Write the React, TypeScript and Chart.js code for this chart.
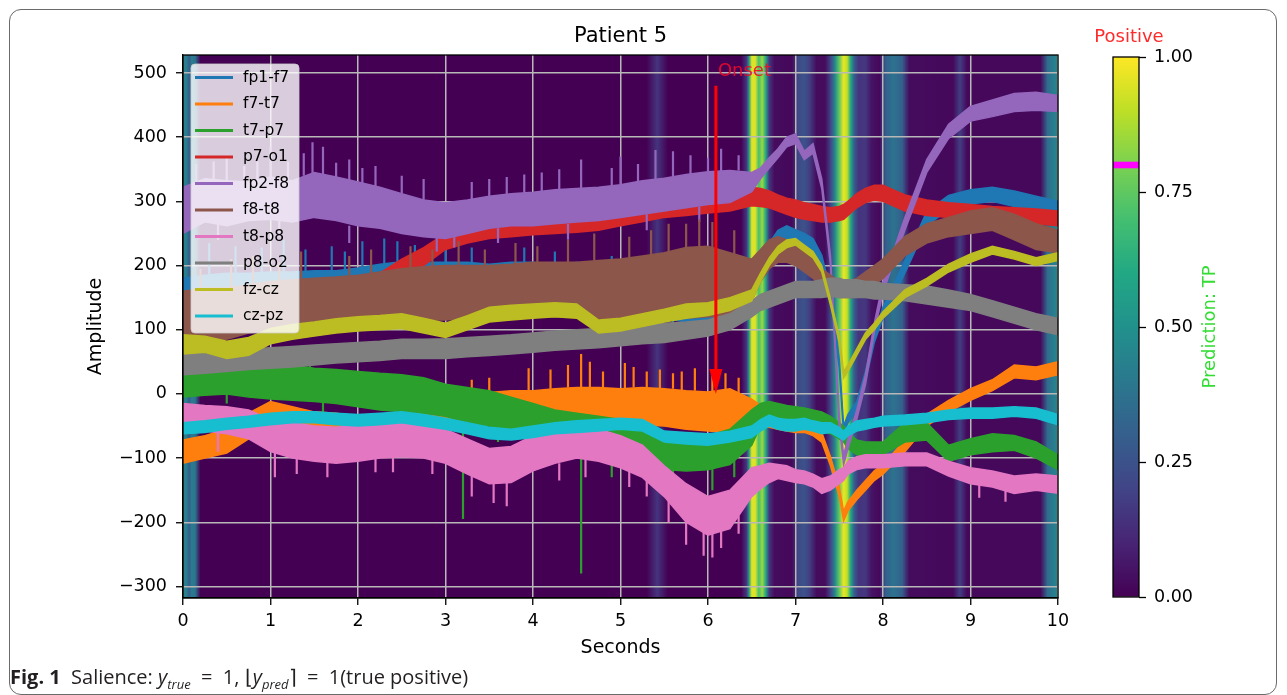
import React, { useEffect, useRef } from 'react';
import { Chart, registerables } from 'chart.js';
Chart.register(...registerables);

// ---------- axis / tick values ----------
const xTicks = [0, 1, 2, 3, 4, 5, 6, 7, 8, 9, 10];
const yTicks = [-300, -200, -100, 0, 100, 200, 300, 400, 500];
const yMin = -318;
const yMax = 528;
const cbTicks = [0, 0.25, 0.5, 0.75, 1];

// ---------- sample times (s) ----------
const timeS = [
  0, 0.25, 0.5, 0.75, 1, 1.25, 1.5, 1.75,
  2, 2.25, 2.5, 2.75, 3, 3.25, 3.5, 3.75,
  4, 4.25, 4.5, 4.75, 5, 5.25, 5.5, 5.75,
  6, 6.25, 6.5,
  6.6, 6.7, 6.8, 6.9, 7, 7.1, 7.2, 7.3, 7.4, 7.5,
  7.55, 7.6, 7.7, 7.8, 7.9, 8,
  8.25, 8.5, 8.75, 9, 9.25, 9.5, 9.75, 10,
];

// ---------- channel envelopes (low / high of the noisy trace) ----------
const fp1f7Lo = [145, 145, 148, 148, 150, 148, 150, 146, 148, 150, 150, 148, 145, 148, 145, 142, 140, 140, 135, 132, 128, 122, 118, 112, 110, 118, 150, 180, 205, 228, 240, 236, 230, 222, 200, 148, 40, -62, -45, -25, 20, 80, 118, 188, 262, 287, 296, 300, 292, 286, 278];
const fp1f7Hi = [180, 185, 188, 188, 190, 190, 192, 192, 196, 202, 206, 205, 205, 205, 202, 205, 205, 200, 205, 198, 195, 190, 188, 185, 182, 185, 200, 215, 235, 255, 262, 256, 250, 242, 216, 162, 54, -50, -32, -12, 35, 95, 135, 208, 284, 309, 318, 322, 316, 308, 300];

const f7t7Lo = [-108, -100, -92, -70, -55, -60, -65, -68, -72, -75, -70, -62, -55, -45, -42, -40, -42, -40, -40, -42, -45, -48, -50, -55, -58, -60, -58, -48, -52, -55, -58, -60, -60, -65, -75, -112, -160, -198, -182, -165, -150, -135, -125, -90, -50, -28, -10, 5, 25, 22, 30];
const f7t7Hi = [-72, -65, -55, -30, -12, -20, -28, -30, -35, -38, -32, -25, -15, 0, 2, 5, 5, 8, 10, 10, 8, 10, 8, 5, 3, 8, -8, -18, -30, -35, -38, -40, -42, -48, -60, -98, -145, -183, -168, -150, -135, -120, -110, -72, -32, -10, 8, 22, 45, 42, 50];

const t7p7Lo = [-5, -2, 0, -5, -8, -10, -12, -15, -20, -25, -28, -30, -35, -45, -50, -58, -65, -75, -85, -92, -100, -108, -118, -120, -118, -110, -80, -50, -45, -48, -50, -52, -50, -55, -58, -62, -70, -75, -85, -95, -98, -95, -95, -75, -72, -105, -95, -90, -88, -100, -118];
const t7p7Hi = [42, 45, 48, 45, 42, 45, 40, 38, 35, 32, 30, 25, 15, 10, 5, -5, -15, -25, -30, -35, -40, -50, -65, -65, -65, -55, -25, -15, -12, -15, -18, -20, -22, -25, -28, -35, -45, -50, -60, -72, -75, -75, -75, -45, -45, -80, -70, -62, -65, -75, -95];

const p7o1Lo = [135, 138, 140, 142, 145, 147, 148, 150, 152, 160, 182, 200, 225, 235, 242, 245, 248, 250, 252, 255, 262, 268, 275, 278, 282, 285, 293, 292, 290, 285, 280, 275, 272, 270, 268, 268, 270, 272, 278, 290, 298, 302, 300, 285, 278, 275, 272, 270, 268, 265, 262];
const p7o1Hi = [158, 162, 163, 166, 170, 172, 174, 176, 180, 188, 210, 228, 250, 260, 268, 270, 272, 275, 278, 282, 288, 292, 300, 302, 308, 312, 322, 320, 316, 310, 305, 302, 298, 295, 292, 290, 292, 295, 300, 312, 320, 325, 325, 310, 302, 298, 295, 292, 290, 288, 285];

const fp2f8Lo = [250, 268, 262, 270, 272, 268, 275, 270, 262, 258, 250, 245, 242, 250, 258, 262, 262, 265, 268, 270, 275, 280, 285, 290, 295, 298, 315, 335, 352, 368, 385, 390, 365, 375, 320, 200, -50, -110, -85, -40, 15, 95, 158, 255, 345, 398, 425, 432, 440, 442, 440];
const fp2f8Hi = [322, 335, 332, 330, 338, 332, 345, 338, 330, 322, 312, 302, 298, 302, 308, 312, 314, 318, 320, 322, 326, 332, 336, 342, 346, 348, 345, 352, 368, 382, 400, 405, 378, 390, 335, 215, -35, -95, -70, -25, 30, 110, 175, 275, 365, 420, 448, 458, 468, 470, 465];

const f8t8Lo = [80, 80, 85, 95, 100, 102, 105, 108, 110, 112, 115, 115, 115, 118, 120, 120, 120, 120, 120, 118, 115, 115, 115, 118, 120, 120, 145, 175, 195, 205, 205, 200, 190, 180, 165, 155, 150, 150, 150, 150, 160, 170, 180, 215, 235, 245, 250, 255, 240, 225, 220];
const f8t8Hi = [160, 165, 165, 170, 175, 178, 180, 182, 185, 190, 195, 198, 200, 200, 200, 202, 205, 205, 205, 208, 210, 215, 220, 228, 230, 220, 210, 225, 240, 245, 240, 232, 222, 210, 195, 185, 175, 175, 175, 180, 190, 200, 210, 245, 265, 275, 285, 290, 280, 265, 255];

const t8p8Lo = [-55, -58, -62, -70, -90, -100, -105, -108, -105, -100, -98, -100, -108, -125, -140, -138, -120, -108, -100, -105, -115, -130, -160, -200, -220, -210, -160, -148, -138, -132, -135, -138, -140, -145, -155, -150, -140, -135, -125, -118, -115, -115, -115, -112, -112, -128, -140, -145, -155, -150, -155];
const t8p8Hi = [-15, -18, -20, -25, -40, -45, -50, -52, -48, -45, -45, -48, -55, -70, -85, -82, -65, -55, -50, -55, -65, -80, -112, -140, -160, -150, -115, -112, -108, -110, -112, -118, -120, -125, -132, -128, -118, -115, -105, -98, -95, -95, -95, -92, -92, -105, -115, -120, -128, -125, -128];

const p8o2Lo = [30, 32, 35, 38, 40, 42, 45, 48, 50, 52, 55, 55, 55, 58, 60, 62, 65, 68, 70, 72, 75, 78, 80, 85, 90, 100, 120, 130, 135, 140, 145, 150, 150, 150, 150, 152, 150, 150, 150, 150, 150, 148, 148, 145, 140, 135, 130, 120, 110, 100, 92];
const p8o2Hi = [65, 66, 68, 70, 72, 74, 76, 78, 80, 82, 85, 85, 86, 88, 90, 92, 95, 98, 100, 102, 105, 108, 110, 112, 115, 125, 145, 155, 160, 165, 170, 175, 175, 175, 178, 180, 180, 178, 178, 178, 175, 175, 172, 170, 168, 162, 155, 145, 135, 125, 118];

const fzczLo = [62, 65, 55, 60, 78, 85, 90, 95, 98, 100, 102, 95, 88, 100, 112, 115, 118, 120, 118, 95, 98, 105, 112, 118, 122, 130, 145, 175, 200, 218, 228, 232, 222, 212, 190, 138, 80, 25, 35, 60, 85, 100, 118, 150, 168, 190, 205, 218, 210, 200, 208];
const fzczHi = [92, 90, 82, 88, 102, 108, 112, 117, 120, 122, 125, 118, 110, 122, 135, 138, 140, 142, 140, 115, 118, 125, 132, 140, 142, 150, 162, 188, 212, 230, 240, 242, 232, 222, 200, 148, 90, 35, 45, 70, 95, 110, 128, 162, 180, 202, 218, 230, 222, 212, 220];

const czpzLo = [-62, -60, -55, -52, -48, -45, -45, -48, -50, -48, -45, -50, -55, -62, -70, -72, -68, -62, -60, -58, -55, -58, -75, -78, -80, -75, -68, -58, -50, -55, -58, -58, -55, -58, -62, -60, -68, -72, -65, -58, -55, -52, -50, -48, -45, -40, -38, -38, -35, -38, -48];
const czpzHi = [-45, -42, -38, -35, -30, -28, -28, -30, -32, -30, -28, -32, -38, -45, -52, -55, -50, -45, -42, -40, -38, -40, -58, -60, -62, -58, -50, -40, -33, -38, -40, -40, -38, -42, -45, -45, -52, -58, -50, -42, -40, -38, -35, -33, -30, -25, -22, -22, -20, -22, -32];

// ---------- isolated spikes [time, from, to] ----------
const fp1f7Spikes = [[0.3, 180, 235], [0.6, 185, 230], [0.9, 188, 228], [1.15, 190, 240], [1.4, 190, 225], [1.7, 192, 230], [1.85, 192, 222], [2.05, 198, 238], [2.3, 204, 242], [2.45, 206, 238], [2.65, 206, 232], [3.0, 205, 225], [3.3, 205, 228], [3.9, 205, 228], [4.25, 200, 222], [4.9, 195, 215], [5.2, 188, 215], [5.6, 130, 105], [5.9, 125, 100], [6.1, 125, 105], [6.3, 135, 110]];
const f7t7Spikes = [[3.3, 0, 22], [3.5, 2, 25], [3.95, 5, 40], [4.2, 8, 38], [4.4, 10, 45], [4.55, 10, 62], [4.65, 10, 50], [4.8, 10, 35], [5.05, 8, 48], [5.15, 10, 42], [5.3, 8, 35], [5.45, 8, 38], [5.6, 8, 32], [5.7, 5, 35], [5.85, 5, 40], [6.05, 3, 28], [6.2, 5, 32], [6.35, 0, 25]];
const t7p7Spikes = [[0.3, 45, 62], [0.5, 0, -15], [1.2, 45, 60], [1.45, 40, 58], [1.6, -12, -30], [2.6, -28, -48], [3.2, -40, -195], [3.6, -50, -75], [4.0, -65, -95], [4.55, -80, -280], [4.9, -95, -130], [5.6, -110, -145], [6.05, -110, -150], [6.3, -100, -130]];
const p7o1Spikes: number[][] = [];
const fp2f8Spikes = [[0.15, 330, 358], [0.35, 335, 362], [0.5, 330, 370], [0.7, 330, 355], [0.85, 332, 362], [1.0, 338, 385], [1.2, 335, 362], [1.38, 340, 375], [1.48, 342, 392], [1.6, 342, 385], [1.75, 338, 360], [1.9, 332, 365], [2.05, 328, 352], [2.2, 322, 355], [2.5, 312, 340], [2.75, 300, 335], [3.3, 302, 330], [3.5, 308, 335], [3.7, 310, 338], [3.9, 312, 342], [4.1, 315, 345], [4.3, 318, 350], [4.55, 320, 365], [4.9, 325, 352], [5.0, 325, 370], [5.2, 330, 358], [5.4, 335, 380], [5.6, 338, 378], [5.8, 342, 372], [6.0, 345, 368], [6.15, 345, 382], [6.35, 348, 372], [0.4, 265, 240], [1.1, 270, 245], [1.9, 262, 235], [2.9, 245, 222], [3.1, 245, 228], [3.6, 258, 235], [4.4, 265, 240], [5.3, 280, 255], [5.9, 292, 268]];
const f8t8Spikes = [[0.2, 160, 195], [0.55, 165, 210], [0.8, 170, 215], [1.1, 175, 205], [1.35, 178, 222], [1.9, 185, 215], [2.15, 188, 225], [2.6, 195, 230], [2.85, 198, 225], [3.15, 200, 238], [3.45, 200, 225], [3.8, 200, 235], [4.05, 205, 230], [4.4, 205, 240], [4.7, 208, 250], [5.1, 210, 245], [5.35, 215, 255], [5.55, 218, 265], [5.75, 228, 265], [5.9, 228, 272], [6.05, 228, 268], [6.3, 215, 255]];
const t8p8Spikes = [[0.4, -60, -90], [1.05, -80, -130], [1.3, -100, -125], [1.65, -105, -130], [2.2, -95, -122], [2.4, -98, -122], [2.85, -95, -125], [3.3, -120, -160], [3.55, -140, -170], [3.7, -130, -175], [4.3, -108, -135], [4.6, -100, -130], [5.1, -115, -145], [5.3, -120, -160], [5.55, -150, -200], [5.75, -200, -235], [5.95, -210, -252], [6.05, -215, -255], [6.15, -205, -240], [6.35, -190, -218], [9.1, -135, -162], [9.4, -145, -168]];
const p8o2Spikes: number[][] = [];
const fzczSpikes: number[][] = [];
const czpzSpikes: number[][] = [];

const channelNames = ['fp1-f7', 'f7-t7', 't7-p7', 'p7-o1', 'fp2-f8', 'f8-t8', 't8-p8', 'p8-o2', 'fz-cz', 'cz-pz'];
const channelColors = ['#1f77b4', '#ff7f0e', '#2ca02c', '#d62728', '#9467bd', '#8c564b', '#e377c2', '#7f7f7f', '#bcbd22', '#17becf'];
const channelLo = [fp1f7Lo, f7t7Lo, t7p7Lo, p7o1Lo, fp2f8Lo, f8t8Lo, t8p8Lo, p8o2Lo, fzczLo, czpzLo];
const channelHi = [fp1f7Hi, f7t7Hi, t7p7Hi, p7o1Hi, fp2f8Hi, f8t8Hi, t8p8Hi, p8o2Hi, fzczHi, czpzHi];
const channelSpikes = [fp1f7Spikes, f7t7Spikes, t7p7Spikes, p7o1Spikes, fp2f8Spikes, f8t8Spikes, t8p8Spikes, p8o2Spikes, fzczSpikes, czpzSpikes];

// ---------- salience heat-map (time, value) ----------
const salienceT = [0, 0.04, 0.07, 0.1, 0.14, 0.2, 5.3, 5.42, 5.54, 6.38, 6.44, 6.47, 6.5, 6.54, 6.58, 6.62, 6.66, 6.7, 6.76, 6.96, 7.03, 7.1, 7.16, 7.24, 7.34, 7.4, 7.45, 7.5, 7.55, 7.59, 7.63, 7.67, 7.72, 7.8, 7.87, 7.96, 8.03, 8.12, 8.22, 8.3, 8.8, 8.88, 8.96, 9.8, 9.88, 9.95, 10];
const salienceV = [0.45, 0.42, 0.28, 0.42, 0.38, 0.0, 0.0, 0.15, 0.0, 0.0, 0.15, 0.55, 0.95, 0.95, 0.7, 0.85, 0.6, 0.15, 0.03, 0.02, 0.22, 0.25, 0.18, 0.03, 0.03, 0.2, 0.45, 0.75, 0.97, 0.9, 0.6, 0.3, 0.15, 0.16, 0.05, 0.02, 0.3, 0.38, 0.3, 0.03, 0.02, 0.18, 0.02, 0.02, 0.35, 0.42, 0.45];

// ---------- annotations ----------
const onsetTime = 6.09;
const onsetTop = 480;
const onsetTip = 0;
const onsetLabelY = 503;
const predValue = 0.8;

const VIRIDIS = ['#440154', '#482475', '#414487', '#355f8d', '#2a788e', '#21918c', '#22a884', '#44bf70', '#7ad151', '#bddf26', '#fde725'];
function hexRgb(h: string) {
  return [parseInt(h.slice(1, 3), 16), parseInt(h.slice(3, 5), 16), parseInt(h.slice(5, 7), 16)];
}
function viridis(v: number) {
  const c = Math.max(0, Math.min(1, v)) * 10;
  const i = Math.min(9, Math.floor(c));
  const f = c - i;
  const a = hexRgb(VIRIDIS[i]);
  const b = hexRgb(VIRIDIS[i + 1]);
  const m = a.map((x, k) => Math.round(x + (b[k] - x) * f));
  return `rgb(${m[0]},${m[1]},${m[2]})`;
}

const FONT = "'DejaVu Sans', sans-serif";

function roundRectPath(ctx: CanvasRenderingContext2D, x: number, y: number, w: number, h: number, r: number) {
  ctx.beginPath();
  ctx.moveTo(x + r, y);
  ctx.lineTo(x + w - r, y);
  ctx.arcTo(x + w, y, x + w, y + r, r);
  ctx.lineTo(x + w, y + h - r);
  ctx.arcTo(x + w, y + h, x + w - r, y + h, r);
  ctx.lineTo(x + r, y + h);
  ctx.arcTo(x, y + h, x, y + h - r, r);
  ctx.lineTo(x, y + r);
  ctx.arcTo(x, y, x + r, y, r);
  ctx.closePath();
}

const mainPlugin = {
  id: 'mainDeco',
  beforeDraw(chart: any) {
    const { ctx, chartArea } = chart;
    const { left, right, top, bottom } = chartArea;
    const xs = chart.scales.x;
    const g = ctx.createLinearGradient(left, 0, right, 0);
    salienceT.forEach((t, i) => {
      const p = (xs.getPixelForValue(t) - left) / (right - left);
      g.addColorStop(Math.max(0, Math.min(1, p)), viridis(salienceV[i]));
    });
    ctx.save();
    ctx.fillStyle = g;
    ctx.fillRect(left, top, right - left, bottom - top);
    ctx.restore();
  },
  afterDatasetsDraw(chart: any) {
    const { ctx, chartArea } = chart;
    const { left, right, top, bottom } = chartArea;
    const xs = chart.scales.x;
    const ys = chart.scales.y;
    ctx.save();
    // onset arrow
    const ax = xs.getPixelForValue(onsetTime);
    const ay0 = ys.getPixelForValue(onsetTop);
    const ay1 = ys.getPixelForValue(onsetTip);
    ctx.strokeStyle = '#ff0000';
    ctx.fillStyle = '#ff0000';
    ctx.lineWidth = 3;
    ctx.beginPath();
    ctx.moveTo(ax, ay0);
    ctx.lineTo(ax, ay1 - 20);
    ctx.stroke();
    ctx.beginPath();
    ctx.moveTo(ax - 6.5, ay1 - 25);
    ctx.lineTo(ax + 6.5, ay1 - 25);
    ctx.lineTo(ax, ay1);
    ctx.closePath();
    ctx.fill();
    ctx.font = `18px ${FONT}`;
    ctx.textBaseline = 'middle';
    ctx.textAlign = 'left';
    ctx.fillStyle = 'rgba(240,10,40,0.9)';
    ctx.fillText('Onset', ax + 2, ys.getPixelForValue(onsetLabelY));
    // frame
    ctx.strokeStyle = '#000';
    ctx.lineWidth = 1.3;
    ctx.strokeRect(left, top, right - left, bottom - top);
    // title
    ctx.fillStyle = '#000';
    ctx.font = `21px ${FONT}`;
    ctx.textAlign = 'center';
    ctx.fillText('Patient 5', (left + right) / 2, 37);
    // legend
    const lx = left + 8;
    const ly = top + 9;
    roundRectPath(ctx, lx, ly, 108, 269, 4);
    ctx.fillStyle = 'rgba(255,255,255,0.8)';
    ctx.fill();
    ctx.strokeStyle = 'rgba(204,204,204,0.8)';
    ctx.lineWidth = 1;
    ctx.stroke();
    ctx.font = `15.5px ${FONT}`;
    ctx.textAlign = 'left';
    channelNames.forEach((n, i) => {
      const yy = ly + 13.5 + i * 26.5;
      ctx.strokeStyle = channelColors[i];
      ctx.lineWidth = 3;
      ctx.beginPath();
      ctx.moveTo(lx + 4, yy);
      ctx.lineTo(lx + 42, yy);
      ctx.stroke();
      ctx.fillStyle = '#000';
      ctx.fillText(n, lx + 52, yy);
    });
    ctx.restore();
  },
};

const cbPlugin = {
  id: 'cbDeco',
  afterDraw(chart: any) {
    const { ctx, chartArea } = chart;
    const { left, right, top, bottom } = chartArea;
    ctx.save();
    ctx.strokeStyle = '#000';
    ctx.lineWidth = 1.3;
    ctx.strokeRect(left, top, right - left, bottom - top);
    ctx.fillStyle = '#ff2a2a';
    ctx.font = `18px ${FONT}`;
    ctx.textAlign = 'center';
    ctx.textBaseline = 'middle';
    ctx.fillText('Positive', (left + right) / 2 + 3, 37);
    ctx.translate(right + 71, 327);
    ctx.rotate(-Math.PI / 2);
    ctx.fillStyle = '#33dd33';
    ctx.font = `18px ${FONT}`;
    ctx.fillText('Prediction: TP', 0, 0);
    ctx.restore();
  },
};

function buildDatasets() {
  const ds: any[] = [];
  channelNames.forEach((name, i) => {
    const ord = (10 - i) * 3;
    const color = channelColors[i];
    ds.push({
      type: 'line', label: name,
      data: timeS.map((t, k) => ({ x: t, y: channelHi[i][k] })),
      borderColor: color, backgroundColor: color, borderWidth: 1.5,
      pointRadius: 0, fill: '+1', order: ord, tension: 0,
    });
    ds.push({
      type: 'line', label: name + ' low',
      data: timeS.map((t, k) => ({ x: t, y: channelLo[i][k] })),
      borderColor: color, backgroundColor: color, borderWidth: 1.5,
      pointRadius: 0, fill: false, order: ord, tension: 0,
    });
    const sp: any[] = [];
    channelSpikes[i].forEach((s) => {
      sp.push({ x: s[0], y: s[1] }, { x: s[0], y: s[2] }, { x: s[0], y: null });
    });
    ds.push({
      type: 'line', label: name + ' spikes', data: sp,
      borderColor: color, borderWidth: 2.2, pointRadius: 0, fill: false,
      order: ord, spanGaps: false,
    });
  });
  return ds;
}

export default function App() {
  const mainRef = useRef<HTMLCanvasElement>(null);
  const cbRef = useRef<HTMLCanvasElement>(null);

  useEffect(() => {
    Chart.defaults.font.family = FONT;
    const tickFont = { family: FONT, size: 17.5 };
    const main = new Chart(mainRef.current as HTMLCanvasElement, {
      type: 'line',
      data: { datasets: buildDatasets() },
      options: {
        responsive: false,
        animation: false,
        devicePixelRatio: 1,
        layout: { padding: { left: 80, right: 229, top: 55, bottom: 35.6 } },
        plugins: { legend: { display: false }, tooltip: { enabled: false }, title: { display: false } },
        scales: {
          x: {
            type: 'linear', min: 0, max: 10,
            afterBuildTicks: (s: any) => { s.ticks = xTicks.map((v) => ({ value: v })); },
            afterFit: (s: any) => { s.height = 61.4; },
            ticks: { font: tickFont, color: '#000', padding: 6, callback: (v: any) => String(v) },
            grid: { color: '#b8b8b8', lineWidth: 1.5, tickColor: '#000', tickLength: 7, tickWidth: 1.3 },
            border: { display: true, color: '#000', width: 1.3 },
            title: { display: true, text: 'Seconds', color: '#000', font: { family: FONT, size: 19 }, padding: 0 },
          },
          y: {
            type: 'linear', min: yMin, max: yMax,
            afterBuildTicks: (s: any) => { s.ticks = yTicks.map((v) => ({ value: v })); },
            afterFit: (s: any) => { s.width = 103; },
            ticks: { font: tickFont, color: '#000', padding: 9, callback: (v: any) => (v < 0 ? '\u2212' + Math.abs(v) : String(v)) },
            grid: { color: '#b8b8b8', lineWidth: 1.5, tickColor: '#000', tickLength: 7, tickWidth: 1.3 },
            border: { display: true, color: '#000', width: 1.3 },
            title: { display: true, text: 'Amplitude', color: '#000', font: { family: FONT, size: 19 }, padding: { top: 4.6, bottom: 0 } },
          },
        },
      },
      plugins: [mainPlugin],
    } as any);

    const cb = new Chart(cbRef.current as HTMLCanvasElement, {
      type: 'bar',
      data: {
        labels: [''],
        datasets: [
          {
            data: [[predValue - 0.0055, predValue + 0.0055]],
            backgroundColor: '#ff00ff', grouped: false, barPercentage: 1, categoryPercentage: 1,
            borderWidth: 0, order: 1,
          },
          {
            data: [[cbTicks[0], cbTicks[cbTicks.length - 1]]],
            backgroundColor: (c: any) => {
              const ch = c.chart;
              const area = ch.chartArea;
              if (!area) return VIRIDIS[0];
              const g = ch.ctx.createLinearGradient(0, area.bottom, 0, area.top);
              VIRIDIS.forEach((col, i) => g.addColorStop(i / 10, col));
              return g;
            },
            grouped: false, barPercentage: 1, categoryPercentage: 1, borderWidth: 0, order: 2,
          },
        ],
      },
      options: {
        responsive: false,
        animation: false,
        devicePixelRatio: 1,
        layout: { padding: { left: 43, top: 57, bottom: 98, right: 0 } },
        plugins: { legend: { display: false }, tooltip: { enabled: false } },
        scales: {
          x: { display: false },
          y: {
            position: 'right', min: 0, max: 1,
            afterBuildTicks: (s: any) => { s.ticks = cbTicks.map((v) => ({ value: v })); },
            afterFit: (s: any) => { s.width = 148; },
            ticks: { font: tickFont, color: '#000', padding: 8, callback: (v: any) => Number(v).toFixed(2) },
            grid: { drawOnChartArea: false, drawTicks: true, tickLength: 7, tickColor: '#000', tickWidth: 1.3 },
            border: { display: false },
          },
        },
      },
      plugins: [cbPlugin],
    } as any);

    return () => { main.destroy(); cb.destroy(); };
  }, []);

  return (
    <div style={{ position: 'absolute', left: 0, top: 0, width: 1287, height: 695, overflow: 'hidden', background: '#fff' }}>
      <div style={{ position: 'absolute', left: 9, top: 9, width: 1268, height: 686, border: '1.3px solid #6a6a6a', borderRadius: 12, boxSizing: 'border-box' }} />
      <canvas ref={mainRef} width={1287} height={695} style={{ position: 'absolute', left: 0, top: 0 }} />
      <canvas ref={cbRef} width={217} height={695} style={{ position: 'absolute', left: 1070, top: 0 }} />
      <div style={{ position: 'absolute', left: 10, top: 664, fontFamily: "'Open Sans', sans-serif", fontSize: 20, color: '#231f20', whiteSpace: 'nowrap', lineHeight: '26px' }}>
        <b>Fig. 1</b>&nbsp;&nbsp;Salience: <i>y</i><sub style={{ fontSize: 13 }}><i>true</i></sub>&nbsp;&nbsp;=&nbsp;&nbsp;1, ⌊<i>y</i><sub style={{ fontSize: 13 }}><i>pred</i></sub>⌉&nbsp;&nbsp;=&nbsp;&nbsp;1(true positive)
      </div>
    </div>
  );
}
